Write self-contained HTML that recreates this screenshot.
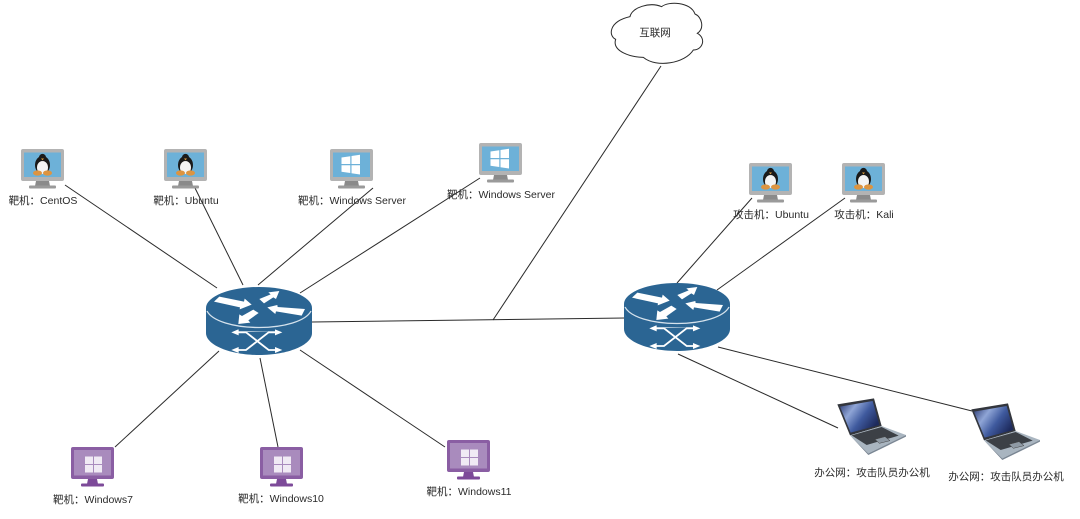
<!DOCTYPE html>
<html><head><meta charset="utf-8"><style>
html,body{margin:0;padding:0;background:#fff}
svg{display:block;position:absolute;left:0;top:0}
text{font-family:"Liberation Sans","Noto Sans CJK SC",sans-serif;font-size:10.5px;fill:#2a2a2a;text-anchor:middle}
</style></head><body>
<svg width="1080" height="519" viewBox="0 0 1080 519" xmlns="http://www.w3.org/2000/svg">
<defs>
<linearGradient id="scr" x1="0" y1="0" x2="1" y2="0.6"><stop offset="0" stop-color="#27366f"/><stop offset="0.35" stop-color="#8fa5d6"/><stop offset="0.65" stop-color="#3f5a9e"/><stop offset="1" stop-color="#1d2a5c"/></linearGradient>
<g id="mon"><path d="M2 0H41a2 2 0 0 1 2 2V30a2 2 0 0 1-2 2H2a2 2 0 0 1-2-2V2a2 2 0 0 1 2-2z" fill="#b3b3b3"/><rect x="3" y="3.500" width="37" height="24.500" fill="#6db1d8"/><path d="M15 32H28L29 37H14z" fill="#8a8a8a"/><rect x="8" y="36.500" width="27" height="3" rx="1" fill="#9a9a9a"/></g>
<g id="linux"><use href="#mon"/><ellipse cx="21.500" cy="16" rx="7.500" ry="9" fill="#1a1a1a"/><ellipse cx="21.500" cy="18.500" rx="5.500" ry="6.500" fill="#f4f4f4"/><circle cx="21.500" cy="8.500" r="3.600" fill="#1a1a1a"/><path d="M20 9.500h3l-1.500 1.800z" fill="#e8a33d"/><ellipse cx="16.500" cy="24" rx="4.500" ry="2.600" fill="#dd9440"/><ellipse cx="26.500" cy="24" rx="4.500" ry="2.600" fill="#dd9440"/></g>
<g id="win"><use href="#mon"/><path d="M11.500 8.500l8.800-1.300v7.800h-8.800zM21.500 7l8.500-1.300v9.300h-8.500zM11.500 16.200h8.800v7.800l-8.800-1.300zM21.500 16.200h8.500v9.300l-8.500-1.300z" fill="#fff"/></g>
<g id="pur"><path d="M2 0H41a2 2 0 0 1 2 2V30a2 2 0 0 1-2 2H2a2 2 0 0 1-2-2V2a2 2 0 0 1 2-2z" fill="#8a5ea3"/><rect x="3" y="3" width="37" height="25.500" fill="#a98bbd"/><path d="M17 32H26L27 37H16z" fill="#7d4a99"/><rect x="10" y="36.500" width="23" height="3" rx="1" fill="#7d4a99"/><path d="M14 9.500h8v7.500h-8zM23 9.500h8v7.500h-8zM14 18h8v7.500h-8zM23 18h8v7.500h-8z" fill="#f0eaf4"/></g>
<g id="router">
<path d="M0 21V46C0 58 24 68 53 68S106 58 106 46V21z" fill="#2b6593"/>
<ellipse cx="53" cy="21" rx="53" ry="21" fill="#2b6593"/>
<path d="M1 24C6 34 28 40.500 53 40.500S100 34 105 24" fill="none" stroke="#d5e2ec" stroke-width="1.300"/>
<g transform="translate(-16 -12) scale(.3333)">
<g fill="#fff">
<path d="M88 65L72 80 150 97 149 103 185 89 164 71 162 80z"/>
<path d="M208 72L222 85 250 67 258 72 268 48 235 52 242 58z"/>
<path d="M232 97L262 90 263 96 345 102 335 122 258 109 256 117z"/>
<path d="M190 104L206 114 175 136 181 143 145 147 148 118 156 123z"/>
<path d="M125 172L145 163 145 169 275 169 M0 0z"/>
</g>
<g stroke="#fff" stroke-width="5.500" fill="none"><path d="M140 172H168L236 225H262M140 225H168L236 172H262"/></g>
<g fill="#fff"><path d="M124 172l22-9v18zM124 225l22-9v18zM277 172l-22-9v18zM277 225l-22-9v18z"/></g>
</g>
</g>
<g id="laptop" transform="translate(-28 -8) scale(.3333)">
<path d="M82 43L192 25 215 108 120 136z" fill="#33363d"/>
<path d="M90 50L188 33 208 105 122 128z" fill="url(#scr)"/>
<path d="M120 136L215 108 288 135 175 190z" fill="#a9b5c0"/>
<path d="M120 136L175 190 288 135 288 140 175 195z" fill="#7b8794"/>
<path d="M125 136L215 111 266 137 170 165z" fill="#3c4046"/>
<path d="M195 148L225 140 240 152 208 160z" fill="#8f9aa5" stroke="#444" stroke-width="1.500"/>
</g>
</defs>
<g stroke="#2a2a2a" stroke-width="1" fill="none">
<path d="M65 185L217 288"/><path d="M195 188L243 285"/><path d="M373 188L258 285"/><path d="M480 178L300 293"/>
<path d="M115 447L219 351"/><path d="M278 447L260 358"/><path d="M445 447L300 350"/>
<path d="M312 322L625 318"/><path d="M493 320L661 66"/>
<path d="M752 198L677 283"/><path d="M845 198L717 290"/>
<path d="M678 354L838 428"/><path d="M718 347L972 411"/>
</g>
<g transform="translate(600 0) scale(.3333)">
<path d="M90 50C95 22 150 5 185 20C205 3 272 5 285 42C305 50 315 85 292 100C320 115 308 150 280 150C255 190 170 205 130 172C95 172 35 155 47 118C25 108 25 65 90 50z" fill="#fff" stroke="#2a2a2a" stroke-width="3"/>
</g>
<text x="655" y="36">互联网</text>
<use href="#linux" x="21" y="149"/><use href="#linux" x="164" y="149"/>
<use href="#win" x="330" y="149"/><use href="#win" x="479" y="143"/>
<use href="#linux" x="749" y="163"/><use href="#linux" x="842" y="163"/>
<use href="#pur" x="71" y="447"/><use href="#pur" x="260" y="447"/><use href="#pur" x="447" y="440"/>
<use href="#router" x="206" y="287"/><use href="#router" x="624" y="283"/>
<use href="#laptop" x="838" y="398"/><use href="#laptop" x="972" y="403"/>
<text x="43" y="204">靶机：CentOS</text>
<text x="186" y="204">靶机：Ubuntu</text>
<text x="352" y="204">靶机：Windows Server</text>
<text x="501" y="198">靶机：Windows Server</text>
<text x="771" y="218">攻击机：Ubuntu</text>
<text x="864" y="218">攻击机：Kali</text>
<text x="93" y="503">靶机：Windows7</text>
<text x="281" y="502">靶机：Windows10</text>
<text x="469" y="495">靶机：Windows11</text>
<text x="872" y="476">办公网：攻击队员办公机</text>
<text x="1006" y="480">办公网：攻击队员办公机</text>
</svg>
</body></html>
